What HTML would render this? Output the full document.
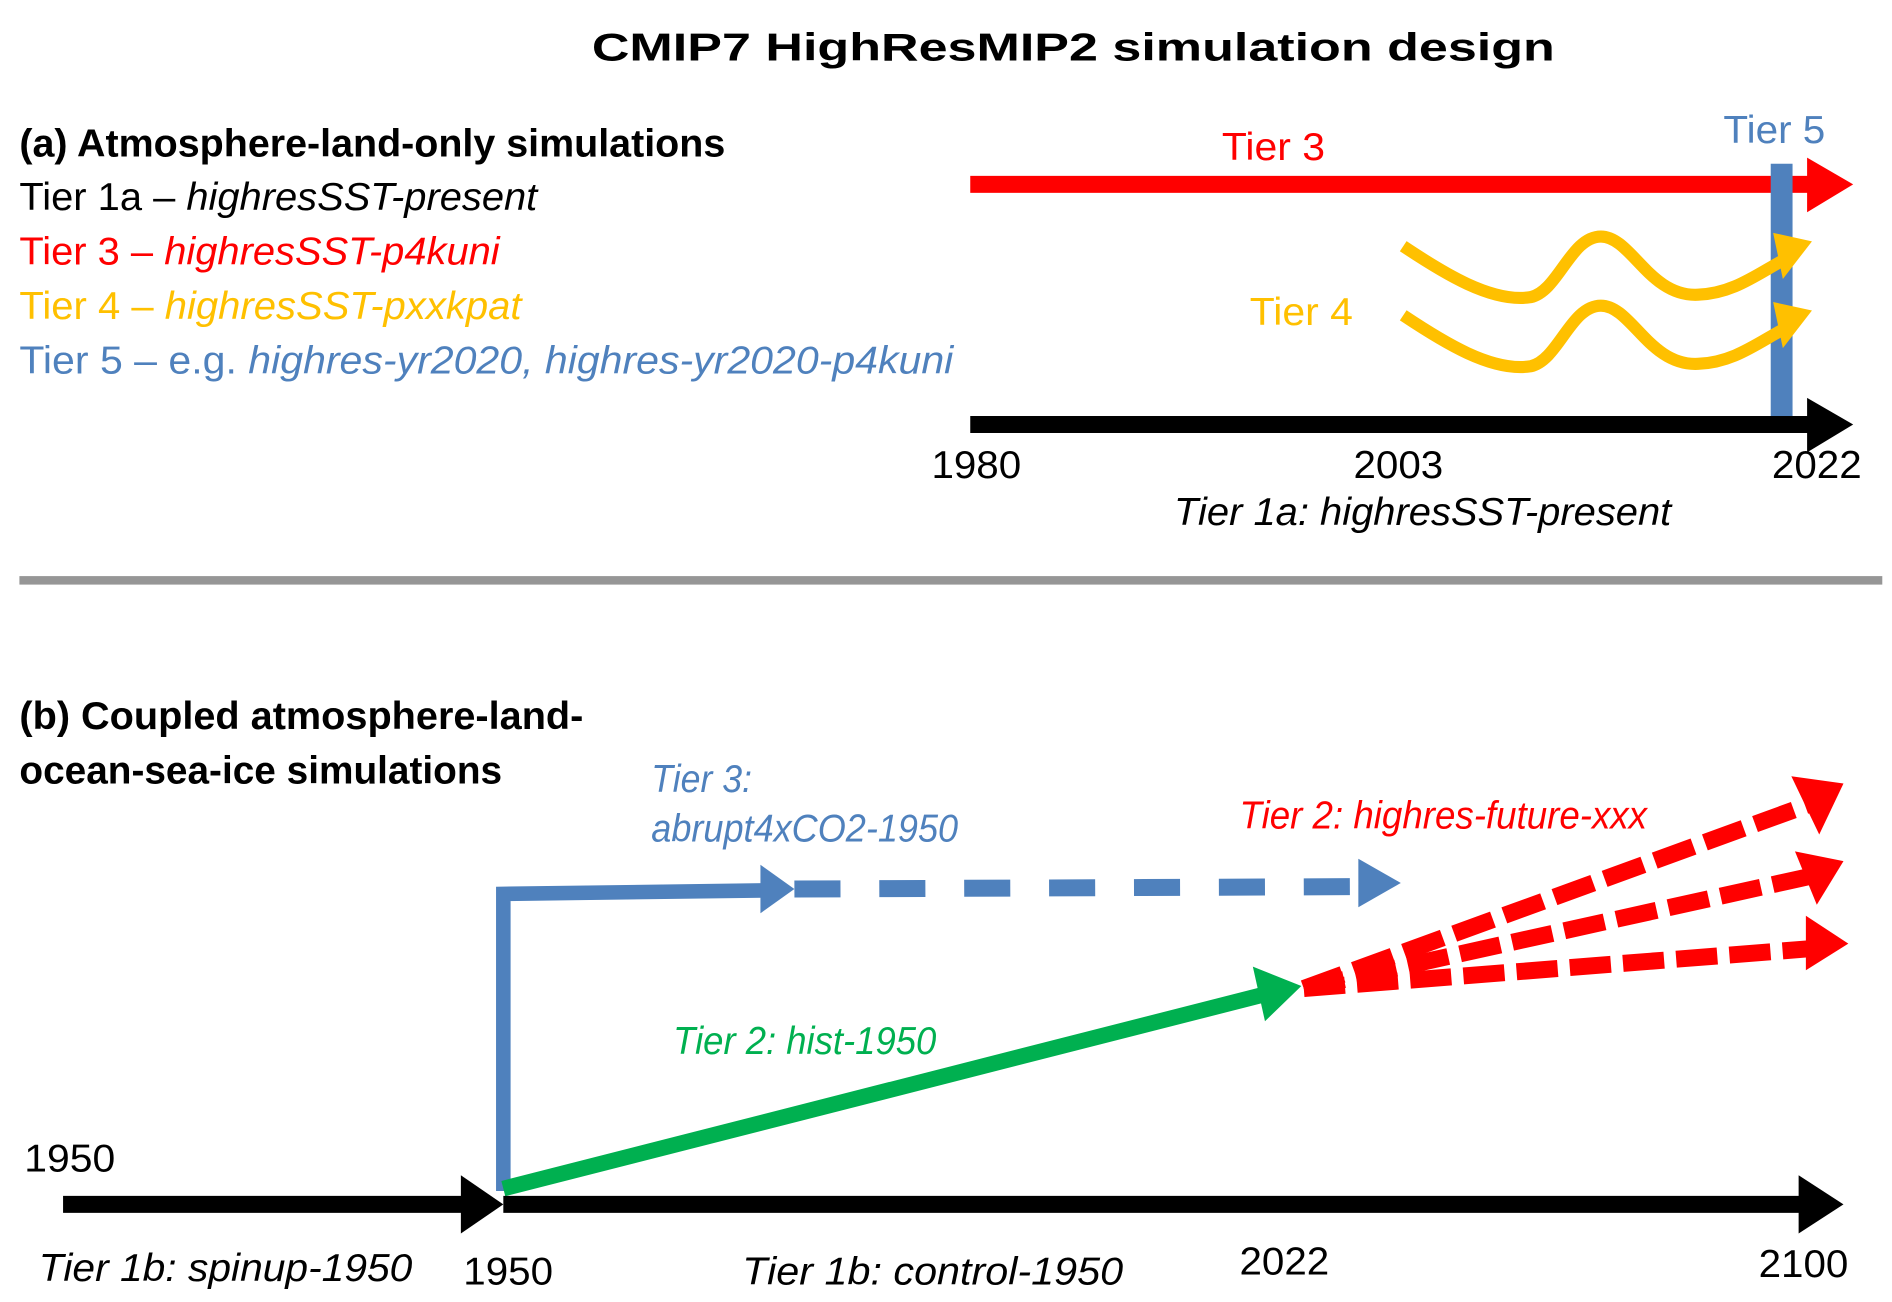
<!DOCTYPE html>
<html><head><meta charset="utf-8"><style>
html,body{margin:0;padding:0;background:#fff;}
svg{display:block;}
text{font-family:"Liberation Sans",sans-serif;font-size:32px;}
</style></head><body>
<svg width="1892" height="1302" viewBox="0 0 1560 1073.5" preserveAspectRatio="none">
<text x="885" y="50" text-anchor="middle" font-weight="bold" font-size="44" textLength="794" lengthAdjust="spacingAndGlyphs">CMIP7 HighResMIP2 simulation design</text>

<g>
<text x="16" y="129" font-weight="bold" textLength="582" lengthAdjust="spacingAndGlyphs">(a) Atmosphere-land-only simulations</text>
<text x="16" y="173" textLength="427" lengthAdjust="spacingAndGlyphs">Tier 1a – <tspan font-style="italic">highresSST-present</tspan></text>
<text x="16" y="218" fill="#ff0000" textLength="396" lengthAdjust="spacingAndGlyphs">Tier 3 – <tspan font-style="italic">highresSST-p4kuni</tspan></text>
<text x="16" y="263" fill="#ffc000" textLength="414" lengthAdjust="spacingAndGlyphs">Tier 4 – <tspan font-style="italic">highresSST-pxxkpat</tspan></text>
<text x="16" y="308" fill="#4f81bd" textLength="770" lengthAdjust="spacingAndGlyphs">Tier 5 – e.g. <tspan font-style="italic">highres-yr2020, highres-yr2020-p4kuni</tspan></text>
</g>

<g>
<rect x="800" y="145" width="692" height="14" fill="#ff0000"/>
<polygon points="1490,130 1528,152 1490,175" fill="#ff0000"/>
</g>
<text x="1050" y="132" text-anchor="middle" fill="#ff0000" textLength="85" lengthAdjust="spacingAndGlyphs">Tier 3</text>

<rect x="1460" y="135" width="18" height="213" fill="#4f81bd"/>
<text x="1463" y="118" text-anchor="middle" fill="#4f81bd" textLength="84" lengthAdjust="spacingAndGlyphs">Tier 5</text>

<g fill="none" stroke="#ffc000" stroke-width="10">
<path d="M1157,203 C1190,225 1230,250 1262,245 C1285,240 1295,195 1320,195 C1345,195 1360,245 1400,243 C1430,242 1450,225 1475,212"/>
<path d="M1157,260 C1190,282 1230,307 1262,302 C1285,297 1295,252 1320,252 C1345,252 1360,302 1400,300 C1430,299 1450,282 1475,269"/>
<polygon points="1462,192 1494,199 1470,230" fill="#ffc000" stroke="none"/>
<polygon points="1462,249 1494,256 1470,287" fill="#ffc000" stroke="none"/>
</g>
<text x="1073" y="268" text-anchor="middle" fill="#ffc000" textLength="85" lengthAdjust="spacingAndGlyphs">Tier 4</text>

<g>
<rect x="800" y="343" width="692" height="14" fill="#000"/>
<polygon points="1490,328 1528,350 1490,373" fill="#000"/>
</g>
<text x="805" y="394" text-anchor="middle" textLength="74" lengthAdjust="spacingAndGlyphs">1980</text>
<text x="1153" y="394" text-anchor="middle" textLength="74" lengthAdjust="spacingAndGlyphs">2003</text>
<text x="1498" y="394" text-anchor="middle" textLength="74" lengthAdjust="spacingAndGlyphs">2022</text>
<text x="968" y="433" font-style="italic" textLength="410" lengthAdjust="spacingAndGlyphs">Tier 1a: highresSST-present</text>

<rect x="16" y="475" width="1536" height="7" fill="#969696"/>

<g>
<text x="16" y="601" font-weight="bold" textLength="465" lengthAdjust="spacingAndGlyphs">(b) Coupled atmosphere-land-</text>
<text x="16" y="646" font-weight="bold" textLength="398" lengthAdjust="spacingAndGlyphs">ocean-sea-ice simulations</text>
</g>

<g>
<path d="M415,982 L415,737 L640,734" fill="none" stroke="#4f81bd" stroke-width="12"/>
<polygon points="627,713 655,733 627,753" fill="#4f81bd"/>
<line x1="655" y1="733" x2="1122" y2="731" stroke="#4f81bd" stroke-width="14" stroke-dasharray="38,32"/>
<polygon points="1120,708 1155,728 1120,748" fill="#4f81bd"/>
</g>
<text x="537" y="653" font-style="italic" fill="#4f81bd" textLength="83" lengthAdjust="spacingAndGlyphs">Tier 3:</text>
<text x="537" y="694" font-style="italic" fill="#4f81bd" textLength="253" lengthAdjust="spacingAndGlyphs">abrupt4xCO2-1950</text>

<g>
<line x1="415" y1="980" x2="1050" y2="818" stroke="#00b050" stroke-width="13"/>
<polygon points="1033,797 1073,813 1043,842" fill="#00b050"/>
</g>
<text x="555" y="869" font-style="italic" fill="#00b050" textLength="217" lengthAdjust="spacingAndGlyphs">Tier 2: hist-1950</text>

<g stroke="#ff0000" stroke-width="14" stroke-dasharray="34,10" fill="#ff0000">
<line x1="1075" y1="815" x2="1495" y2="662"/>
<line x1="1075" y1="815" x2="1495" y2="722"/>
<line x1="1075" y1="815" x2="1495" y2="782"/>
<polygon stroke="none" points="1477,640 1520,646 1500,688"/>
<polygon stroke="none" points="1480,702 1520,710 1498,746"/>
<polygon stroke="none" points="1489,755 1524,778 1489,800"/>
</g>
<text x="1022" y="683" font-style="italic" fill="#ff0000" textLength="336" lengthAdjust="spacingAndGlyphs">Tier 2: highres-future-xxx</text>

<g>
<rect x="52" y="986" width="336" height="14" fill="#000"/>
<polygon points="380,969 415,993 380,1017" fill="#000"/>
</g>
<g>
<rect x="415" y="986" width="1072" height="14" fill="#000"/>
<polygon points="1483,969 1520,993 1483,1017" fill="#000"/>
</g>
<text x="20" y="966" textLength="75" lengthAdjust="spacingAndGlyphs">1950</text>
<text x="32" y="1056" font-style="italic" textLength="308" lengthAdjust="spacingAndGlyphs">Tier 1b: spinup-1950</text>
<text x="382" y="1059" textLength="74" lengthAdjust="spacingAndGlyphs">1950</text>
<text x="612" y="1059" font-style="italic" textLength="314" lengthAdjust="spacingAndGlyphs">Tier 1b: control-1950</text>
<text x="1022" y="1051" textLength="74" lengthAdjust="spacingAndGlyphs">2022</text>
<text x="1450" y="1053" textLength="74" lengthAdjust="spacingAndGlyphs">2100</text>
</svg>
</body></html>
